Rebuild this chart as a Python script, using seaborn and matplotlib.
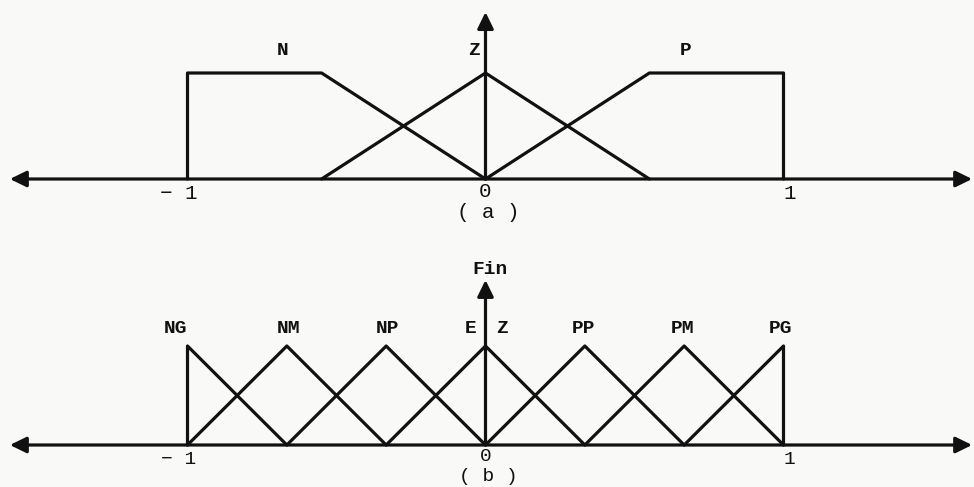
import matplotlib
matplotlib.use("Agg")
import matplotlib.pyplot as plt
import pandas as pd
import seaborn as sns

# (a) input membership functions
a_names = ["N", "Z", "P"]
a_x = [[-1, -1, -0.55, 0], [-0.55, 0, 0.55], [0, 0.55, 1, 1]]
a_mu = [[0, 1, 1, 0], [0, 1, 0], [0, 1, 1, 0]]
a_label_x = [-0.68, -0.04, 0.67]

# (b) output membership functions for Fin
b_names = ["NG", "NM", "NP", "EZ", "PP", "PM", "PG"]
b_x = [[-1, -1, -2 / 3],
       [-1, -2 / 3, -1 / 3],
       [-2 / 3, -1 / 3, 0],
       [-1 / 3, 0, 1 / 3],
       [0, 1 / 3, 2 / 3],
       [1 / 3, 2 / 3, 1],
       [2 / 3, 1, 1]]
b_mu = [[0, 1, 0], [0, 1, 0], [0, 1, 0], [0, 1, 0], [0, 1, 0], [0, 1, 0], [0, 1, 0]]
b_label_x = [-1.04, -0.66, -0.33, 0.0, 0.33, 0.66, 0.99]

tick_values = [-1, 0, 1]
tick_labels = ["\u2212 1", "0", "1"]

INK = "#111111"
W, H = 974, 487

sns.set_theme(style="white")
plt.rcParams["font.family"] = ["Liberation Mono", "DejaVu Sans Mono"]

fig = plt.figure(figsize=(W / 100, H / 100), dpi=100, facecolor="#f9f9f7")


def frame(top_px, bot_px, axis_px, unit_y, x0_px=485.5, unit_x=298.0):
    ax = fig.add_axes([0, 1 - bot_px / H, 1, (bot_px - top_px) / H])
    ax.set_xlim(-x0_px / unit_x, (W - x0_px) / unit_x)
    ax.set_ylim(-(bot_px - axis_px) / unit_y, (axis_px - top_px) / unit_y)
    ax.set_axis_off()
    ax.patch.set_alpha(0)
    return ax


def long_table(names, xs, mus):
    rows = []
    for n, xv, mv in zip(names, xs, mus):
        for i, (x, m) in enumerate(zip(xv, mv)):
            rows.append({"set": n, "order": i, "x": x, "mu": m})
    return pd.DataFrame(rows)


def axes_arrows(ax, left, right, top):
    head = dict(color=INK, lw=2.3, shrinkA=0, shrinkB=0, mutation_scale=22)
    ax.annotate("", xy=(left, 0), xytext=(right, 0),
                arrowprops=dict(arrowstyle="<|-|>,head_length=0.45,head_width=0.22", **head))
    ax.annotate("", xy=(0, top), xytext=(0, 0),
                arrowprops=dict(arrowstyle="-|>,head_length=0.45,head_width=0.22", **head))


def ticks(ax, y, y_zero, size):
    for v, t in zip(tick_values, tick_labels):
        dx = -0.03 if v < 0 else (0.02 if v > 0 else 0.0)
        ax.text(v + dx, y_zero if v == 0 else y, t, ha="center", va="center",
                fontsize=size, color=INK)


def set_label(ax, x, y, s, **kw):
    ax.text(x, y, s, va="center", fontsize=14, fontweight="bold", color=INK, **kw)


# ---- panel (a) ----
ax_a = frame(0, 243, 179, 106)
df_a = long_table(a_names, a_x, a_mu)
sns.lineplot(data=df_a, x="x", y="mu", hue="set", units="set", estimator=None, sort=False,
             palette=[INK] * len(a_names), legend=False, lw=2.3, ax=ax_a)
axes_arrows(ax_a, -1.596, 1.633, 1.575)
for n, lx in zip(a_names, a_label_x):
    set_label(ax_a, lx, 1.21, n, ha="center")
ticks(ax_a, -0.14, -0.12, 15)
ax_a.text(0.01, -0.32, "( a )", ha="center", va="center", fontsize=15, color=INK)

# ---- panel (b) ----
ax_b = frame(243, 487, 445, 99)
df_b = long_table(b_names, b_x, b_mu)
sns.lineplot(data=df_b, x="x", y="mu", hue="set", units="set", estimator=None, sort=False,
             palette=[INK] * len(b_names), legend=False, lw=2.3, ax=ax_b)
axes_arrows(ax_b, -1.596, 1.633, 1.667)
for n, lx in zip(b_names, b_label_x):
    if n == "EZ":
        set_label(ax_b, -0.03, 1.18, n[0], ha="right")
        set_label(ax_b, 0.035, 1.18, n[1], ha="left")
    else:
        set_label(ax_b, lx, 1.18, n, ha="center")
set_label(ax_b, 0.015, 1.77, "Fin", ha="center")
ticks(ax_b, -0.15, -0.115, 14)
ax_b.text(0.01, -0.315, "( b )", ha="center", va="center", fontsize=14, color=INK)

fig.savefig("out.png", dpi=100, facecolor=fig.get_facecolor())
